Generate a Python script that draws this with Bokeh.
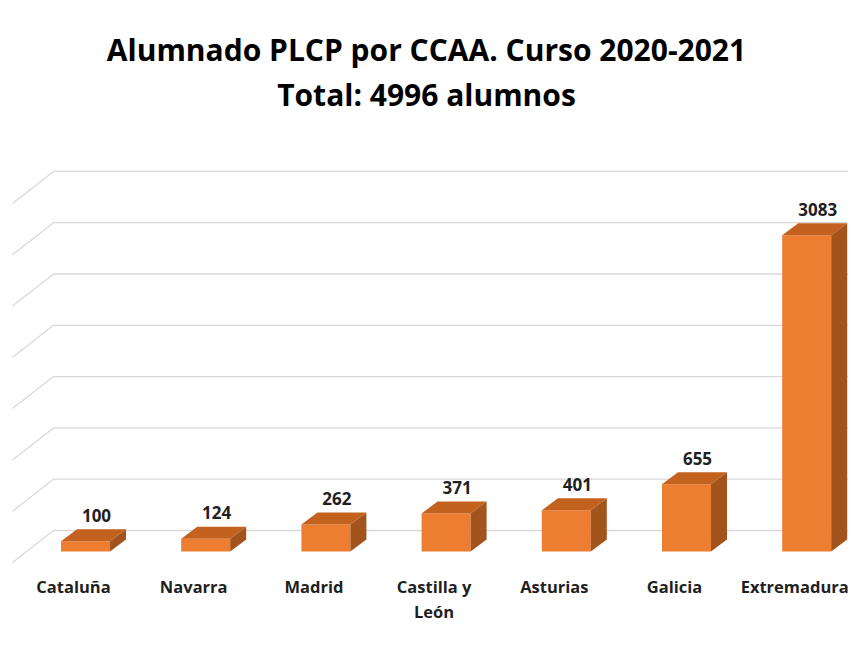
from bokeh.plotting import figure
from bokeh.models import Range1d, Label
from bokeh.core.properties import value
from bokeh.embed import file_html
from bokeh.resources import INLINE

categories = ["Cataluña", "Navarra", "Madrid", "Castilla y\nLeón", "Asturias", "Galicia", "Extremadura"]
alumnos = [100, 124, 262, 371, 401, 655, 3083]
grid_values = [0, 500, 1000, 1500, 2000, 2500, 3000, 3500]
title_line1 = "Alumnado PLCP por CCAA. Curso 2020-2021"
title_line2 = "Total: 4996 alumnos"

W, H = 848, 632
FONT = "Open Sans"
TEXT_COLOR = "#1f1f1f"
FRONT, TOP, SIDE = "#ED7D31", "#C3621F", "#A3541C"
GRID = "#d9d9d9"

x_range = Range1d(-0.7072, 6.3478)
y_range = Range1d(-789.5, 5370.4)
px_x = (x_range.end - x_range.start) / W      # data units per pixel (x)
px_y = (y_range.end - y_range.start) / H      # data units per pixel (y)

bar_w = 49 * px_x
bar_dx, bar_dy = 16 * px_x, 12 * px_y          # bar depth offset
wall_dx, wall_dy = 28 * px_x, 21 * px_y        # back wall offset
floor_dx, floor_dy = 41 * px_x, 32 * px_y      # side-wall gridline depth
wall_left = -32 * px_x

p = figure(width=W, height=H, x_range=x_range, y_range=y_range,
           x_axis_type=None, y_axis_type=None, title=None,
           toolbar_location=None, output_backend="svg", min_border=0)
p.outline_line_color = None
p.xgrid.visible = False
p.ygrid.visible = False

# gridlines: back wall + left side wall diagonals
gx, gy = [], []
for g in grid_values:
    yb = g + wall_dy
    gx.append([wall_left - floor_dx, wall_left, x_range.end])
    gy.append([yb - floor_dy, yb, yb])
p.multi_line(gx, gy, line_color=GRID, line_width=1.3)

xs_i = list(range(len(categories)))
# front faces
p.quad(left=[i - bar_w / 2 for i in xs_i], right=[i + bar_w / 2 for i in xs_i],
       bottom=0, top=alumnos, fill_color=FRONT, line_color=None)
# top and side faces
tx, ty, sx, sy = [], [], [], []
for i, v in zip(xs_i, alumnos):
    L, R = i - bar_w / 2, i + bar_w / 2
    tx.append([L, R, R + bar_dx, L + bar_dx])
    ty.append([v, v, v + bar_dy, v + bar_dy])
    sx.append([R, R, R + bar_dx, R + bar_dx])
    sy.append([0, v, v + bar_dy, bar_dy])
p.patches(tx, ty, fill_color=TOP, line_color=None)
p.patches(sx, sy, fill_color=SIDE, line_color=None)

# value labels
p.text(x=xs_i, y=[v + bar_dy for v in alumnos], text=[str(v) for v in alumnos],
       x_offset=11, y_offset=-14, text_align="center", text_baseline="alphabetic",
       text_font=value(FONT), text_font_style="bold", text_font_size="17px",
       text_color=TEXT_COLOR)

# category labels
p.text(x=xs_i, y=[0] * len(xs_i), text=categories, x_offset=-12, y_offset=24,
       text_align="center", text_baseline="top", text_line_height=1.05,
       text_font=value(FONT), text_font_style="bold", text_font_size="16.5px",
       text_color=TEXT_COLOR)

# title
p.add_layout(Label(x=426, y=H - 49, x_units="screen", y_units="screen", text=title_line1,
                   text_align="center", text_baseline="middle", text_font=FONT,
                   text_font_style="bold", text_font_size="30px", text_color="#000000"))
p.add_layout(Label(x=426, y=H - 94, x_units="screen", y_units="screen", text=title_line2,
                   text_align="center", text_baseline="middle", text_font=FONT,
                   text_font_style="bold", text_font_size="30px", text_color="#000000"))

open("out.html", "w").write(file_html(p, INLINE))
